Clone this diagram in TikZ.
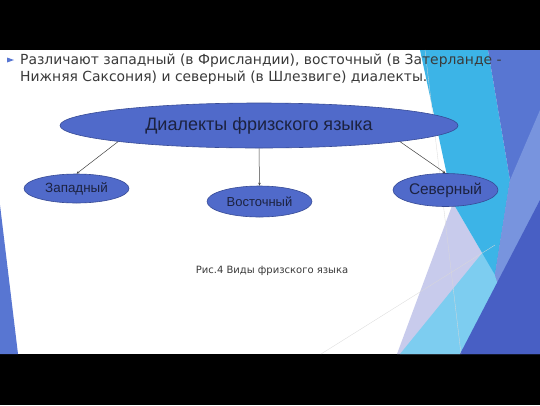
\documentclass[tikz,border=0pt]{standalone}
\usepackage{fontspec}
\setmainfont{DejaVu Sans}
\newfontfamily\arialf{Liberation Sans}
\usetikzlibrary{shapes.geometric,arrows.meta}
\definecolor{ellfill}{RGB}{80,106,202}
\definecolor{elldraw}{RGB}{55,75,150}
\definecolor{elltext}{RGB}{28,34,64}
\definecolor{bodytext}{RGB}{58,58,58}
\definecolor{cyanA}{RGB}{60,180,231}
\definecolor{cyanB}{RGB}{125,205,240}
\definecolor{lav}{RGB}{200,203,236}
\definecolor{blueM}{RGB}{88,118,210}
\definecolor{blueL}{RGB}{120,148,222}
\definecolor{blueD}{RGB}{72,95,196}
\tikzset{
  ell/.style={ellipse, draw=elldraw, line width=0.6pt, fill=ellfill, inner sep=0pt, text=elltext, font=\arialf},
  arr/.style={draw=black!75, line width=0.5pt, -{Stealth[length=3pt,width=2.5pt]}},
  bodyline/.style={anchor=base west, inner sep=0pt, text=bodytext, font=\fontsize{13.9}{16}\selectfont},
  faint/.style={draw=black!15, line width=0.3pt},
}
\begin{document}
\begin{tikzpicture}[x=1pt,y=-1pt]
\useasboundingbox (0,0) rectangle (540,405);
% background
\fill[black] (0,0) rectangle (540,405);
\fill[white] (0,50) rectangle (540,354);
% right decoration
\fill[lav] (453,203) -- (495,275) -- (460,354) -- (397,354) -- cycle;
\fill[cyanB] (400,354) -- (460,354) -- (500,290) -- (495,275) -- (483,252) -- cycle;
\fill[cyanA] (420,50) -- (488,50) -- (510,180) -- (495,275) -- (453,203) -- cycle;
\fill[blueM] (488,50) -- (540,50) -- (540,354) -- (460,354) -- (500,290) -- (495,275) -- (510,180) -- cycle;
\fill[blueL] (510,180) -- (540,110) -- (540,200) -- (500,290) -- (495,275) -- cycle;
\fill[blueD] (460,354) -- (540,354) -- (540,200) -- cycle;
\draw[faint] (321,354) -- (495,245);
\draw[faint] (425,50) -- (461,354);
% left decoration
\fill[blueM] (0,205) -- (18,354) -- (0,354) -- cycle;
% bullet
\fill[blueM] (7,57.5) -- (14,60) -- (7,62.5) -- cycle;
% body text
\node[bodyline] (l1) at (20,64) {Различают западный (в Фрисландии), восточный (в Затерланде -};
\node[bodyline] (l2) at (20,81) {Нижняя Саксония) и северный (в Шлезвиге) диалекты.};
% diagram
\node[ell, minimum width=398pt, minimum height=45pt, font=\arialf\fontsize{18}{20}\selectfont] (main) at (259,125.5) {Диалекты фризского языка};
\node[ell, minimum width=105pt, minimum height=29pt, font=\arialf\fontsize{13.4}{15}\selectfont] (zap) at (76.5,188.5) {Западный};
\node[ell, minimum width=105pt, minimum height=31pt, font=\arialf\fontsize{13}{15}\selectfont] (vost) at (259.5,201.5) {Восточный};
\node[ell, minimum width=105pt, minimum height=33pt, font=\arialf\fontsize{15.4}{17}\selectfont] (sev) at (445.5,190) {Северный};
\draw[arr] (main.south west) -- (zap.north);
\draw[arr] (main.south) -- (vost.north);
\draw[arr] (main.south east) -- (sev.north);
% caption
\node[inner sep=0pt, text=bodytext, font=\fontsize{10}{12}\selectfont] (cap) at (272,271) {Рис.4 Виды фризского языка};
\end{tikzpicture}
\end{document}
